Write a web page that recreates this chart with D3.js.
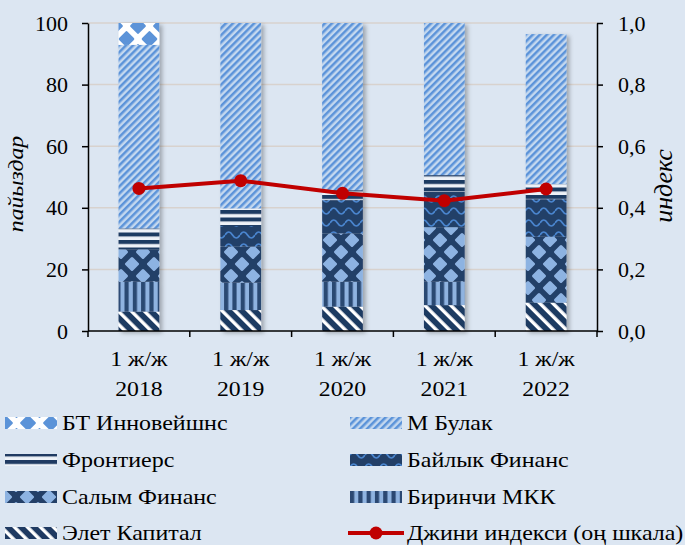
<!DOCTYPE html>
<html>
<head>
<meta charset="utf-8">
<script src="https://cdn.jsdelivr.net/npm/d3@7"></script>
<style>
  html, body { margin: 0; padding: 0; background: #dce6f2; }
  svg { display: block; }
  text { font-family: "Liberation Serif", "Times New Roman", serif; fill: #000; }
</style>
</head>
<body>
<svg id="chart" width="685" height="545"></svg>
<script>
// Periods (first half of each year)
const periodLabel = "1 ж/ж";
const categories = ["2018", "2019", "2020", "2021", "2022"];

// Market shares by company, %, stacked bottom to top
const eletKapital   = [6.3, 6.8, 7.9, 8.4, 9.2];
const birinchiMKK   = [9.7, 8.9, 8.1, 7.6, 0.0];
const salymFinans   = [10.5, 11.7, 15.7, 17.7, 21.4];
const baylykFinans  = [0.0, 6.7, 10.8, 11.5, 12.2];
const frontiers     = [6.8, 5.7, 3.2, 5.4, 4.9];
const mBulak        = [59.6, 60.2, 54.3, 49.4, 48.7];
const btInnovations = [7.1, 0.0, 0.0, 0.0, 0.0];

// Gini index (right axis)
const gini = [0.463, 0.488, 0.447, 0.423, 0.461];

const leftTicks = [0, 20, 40, 60, 80, 100];
const rightTicks = [0, 0.2, 0.4, 0.6, 0.8, 1.0];

const series = [
  { key: "elet",     name: "Элет Капитал",   values: eletKapital },
  { key: "birinchi", name: "Биринчи МКК",    values: birinchiMKK },
  { key: "salym",    name: "Салым Финанс",   values: salymFinans },
  { key: "baylyk",   name: "Байлык Финанс",  values: baylykFinans },
  { key: "front",    name: "Фронтиерс",      values: frontiers },
  { key: "mbulak",   name: "М Булак",        values: mBulak },
  { key: "bt",       name: "БТ Инновейшнс",  values: btInnovations }
];

const svg = d3.select("#chart");
const defs = svg.append("defs");

// ---- fill patterns ----
const navy = "#233f67";
function diamondPath(cx, cy, r) {
  return `M${cx},${cy - r}L${cx + r},${cy}L${cx},${cy + r}L${cx - r},${cy}Z`;
}
function latticePattern(id, w, h, r, bg, fg) {
  const p = defs.append("pattern").attr("id", id)
    .attr("patternUnits", "userSpaceOnUse").attr("width", w).attr("height", h);
  p.append("rect").attr("width", w).attr("height", h).attr("fill", bg);
  const pts = [[w / 2, h / 2], [0, 0], [w, 0], [0, h], [w, h]];
  pts.forEach(([cx, cy]) => {
    p.append("path").attr("d", diamondPath(cx, cy, r))
      .attr("fill", fg).attr("stroke", fg).attr("stroke-width", 3)
      .attr("stroke-linejoin", "round");
  });
}
latticePattern("pat-bt", 23, 26, 6.3, "#ffffff", "#5b93d8");
latticePattern("pat-salym", 22, 24, 5.5, navy, "#8db3e2");

// М Булак: wide upward diagonal
{
  const p = defs.append("pattern").attr("id", "pat-mbulak")
    .attr("patternUnits", "userSpaceOnUse").attr("width", 5).attr("height", 5)
    .attr("patternTransform", "rotate(45)");
  p.append("rect").attr("width", 5).attr("height", 5).attr("fill", "#c4d8ef");
  p.append("rect").attr("width", 2.5).attr("height", 5).attr("fill", "#5b93d9");
}
// Элет Капитал: wide downward diagonal
{
  const p = defs.append("pattern").attr("id", "pat-elet")
    .attr("patternUnits", "userSpaceOnUse").attr("width", 9.2).attr("height", 9.2)
    .attr("patternTransform", "rotate(-45)");
  p.append("rect").attr("width", 9.2).attr("height", 9.2).attr("fill", "#1f3a62");
  p.append("rect").attr("width", 3.4).attr("height", 9.2).attr("fill", "#ffffff");
}
// Фронтиерс: horizontal lines
{
  const p = defs.append("pattern").attr("id", "pat-front")
    .attr("patternUnits", "userSpaceOnUse").attr("width", 8).attr("height", 7.5);
  p.append("rect").attr("width", 8).attr("height", 7.5).attr("fill", "#eef2f8");
  p.append("rect").attr("width", 8).attr("height", 4).attr("fill", "#1f3a62");
}
// Биринчи МКК: vertical stripes
{
  const p = defs.append("pattern").attr("id", "pat-birinchi")
    .attr("patternUnits", "userSpaceOnUse").attr("width", 8.3).attr("height", 8);
  p.append("rect").attr("width", 8.3).attr("height", 8).attr("fill", "#8fb3e0");
  p.append("rect").attr("width", 4.2).attr("height", 8).attr("fill", "#2b4872");
}
// Байлык Финанс: waves
{
  const p = defs.append("pattern").attr("id", "pat-baylyk")
    .attr("patternUnits", "userSpaceOnUse").attr("width", 15).attr("height", 12);
  p.append("rect").attr("width", 15).attr("height", 12).attr("fill", navy);
  p.append("path").attr("d", "M0,7 Q3.75,1 7.5,7 T15,7")
    .attr("fill", "none").attr("stroke", "#4a86d0").attr("stroke-width", 1.7);
}

// soft drop shadow under bars
const f = defs.append("filter").attr("id", "shadow")
  .attr("x", "-20%").attr("y", "-5%").attr("width", "150%").attr("height", "115%");
f.append("feDropShadow").attr("dx", 3).attr("dy", 2).attr("stdDeviation", 2)
  .attr("flood-color", "#000").attr("flood-opacity", 0.28);

// ---- scales ----
const plot = { left: 88, right: 597, top: 23, bottom: 331 };
const x = d3.scaleBand().domain(categories).range([plot.left, plot.right])
  .paddingInner(0.6).paddingOuter(0.3);
const y = d3.scaleLinear().domain([0, 100]).range([plot.bottom, plot.top]);
const y2 = d3.scaleLinear().domain([0, 1]).range([plot.bottom, plot.top]);

// ---- gridlines ----
svg.append("g").selectAll("line").data(leftTicks.filter(d => d > 0)).join("line")
  .attr("x1", plot.left).attr("x2", plot.right)
  .attr("y1", d => y(d)).attr("y2", d => y(d))
  .attr("stroke", "#d8d2ce").attr("stroke-width", 1.5);

// ---- stacked bars ----
const table = categories.map((c, i) => {
  const row = { cat: c };
  series.forEach(s => row[s.key] = s.values[i]);
  return row;
});
const stack = d3.stack().keys(series.map(s => s.key))(table);

const barGroups = svg.append("g").selectAll("g.bar").data(categories).join("g")
  .attr("class", "bar").attr("filter", "url(#shadow)");
barGroups.each(function (cat, i) {
  const g = d3.select(this);
  stack.forEach(layer => {
    const seg = layer[i];
    if (seg[1] - seg[0] <= 0) return;
    g.append("rect")
      .attr("x", x(cat)).attr("width", x.bandwidth())
      .attr("y", y(seg[1])).attr("height", y(seg[0]) - y(seg[1]))
      .attr("fill", `url(#pat-${layer.key})`);
  });
});

// ---- axes ----
const axisStyle = g => {
  g.selectAll("path, line").attr("stroke", "#000").attr("stroke-width", 1.5);
  g.selectAll("text").style("font-family", "'Liberation Serif', serif")
    .style("font-size", "22px").attr("fill", "#000");
};
svg.append("g").attr("transform", `translate(${plot.left},0)`)
  .call(d3.axisLeft(y).tickValues(leftTicks).tickSize(6).tickSizeOuter(0).tickPadding(14))
  .call(axisStyle);
svg.append("g").attr("transform", `translate(${plot.right},0)`)
  .call(d3.axisRight(y2).tickValues(rightTicks).tickSize(6).tickSizeOuter(0).tickPadding(15)
    .tickFormat(d => d3.format(".1f")(d).replace(".", ",")))
  .call(axisStyle);

// x axis line with ticks between categories
const step = x.step();
const bounds = d3.range(categories.length + 1).map(i => plot.left + i * step);
const xg = svg.append("g");
xg.append("line").attr("x1", plot.left).attr("x2", plot.right)
  .attr("y1", plot.bottom).attr("y2", plot.bottom)
  .attr("stroke", "#000").attr("stroke-width", 1.5);
xg.selectAll("line.tk").data(bounds).join("line").attr("class", "tk")
  .attr("x1", d => d).attr("x2", d => d)
  .attr("y1", plot.bottom).attr("y2", plot.bottom + 6)
  .attr("stroke", "#000").attr("stroke-width", 1.5);
const lab = xg.selectAll("g.lab").data(categories).join("g").attr("class", "lab")
  .attr("transform", d => `translate(${x(d) + x.bandwidth() / 2},0) scale(1.08,1)`);
lab.append("text").attr("y", 366).attr("text-anchor", "middle")
  .style("font-size", "22px").text(periodLabel);
lab.append("text").attr("y", 396).attr("text-anchor", "middle")
  .style("font-size", "22px").text(d => d);

// axis titles
svg.append("text").attr("transform", "translate(23,184) rotate(-90) scale(1.08,1)")
  .attr("text-anchor", "middle").style("font-size", "22px").style("font-style", "italic")
  .text("пайыздар");
svg.append("text").attr("transform", "translate(672,186) rotate(-90)")
  .attr("text-anchor", "middle").style("font-size", "26px").style("font-style", "italic")
  .text("индекс");

// ---- Gini line ----
const cx = c => x(c) + x.bandwidth() / 2;
svg.append("path").datum(gini)
  .attr("d", d3.line().x((d, i) => cx(categories[i])).y(d => y2(d)))
  .attr("fill", "none").attr("stroke", "#c00000").attr("stroke-width", 4);
svg.append("g").selectAll("circle").data(gini).join("circle")
  .attr("cx", (d, i) => cx(categories[i])).attr("cy", d => y2(d))
  .attr("r", 6.5).attr("fill", "#c00000");

// ---- legend ----
const legendItems = [
  { col: 0, row: 0, key: "bt" },
  { col: 0, row: 1, key: "front" },
  { col: 0, row: 2, key: "salym" },
  { col: 0, row: 3, key: "elet" },
  { col: 1, row: 0, key: "mbulak" },
  { col: 1, row: 1, key: "baylyk" },
  { col: 1, row: 2, key: "birinchi" },
  { col: 1, row: 3, key: "gini" }
];
const rowY = [423, 460, 497, 533];
const colX = [5, 350];
const lg = svg.append("g").selectAll("g").data(legendItems).join("g")
  .attr("transform", d => `translate(${colX[d.col]},${rowY[d.row]})`);
lg.each(function (d) {
  const g = d3.select(this);
  const label = d.key === "gini" ? "Джини индекси (оң шкала)"
    : series.find(s => s.key === d.key).name;
  if (d.key === "gini") {
    g.append("line").attr("x1", -2).attr("x2", 54).attr("y1", 0).attr("y2", 0)
      .attr("stroke", "#c00000").attr("stroke-width", 4);
    g.append("circle").attr("cx", 26).attr("cy", 0).attr("r", 6.5).attr("fill", "#c00000");
  } else {
    g.append("rect").attr("x", 0).attr("y", -6).attr("width", 52).attr("height", 12)
      .attr("fill", `url(#pat-${d.key})`);
  }
  g.append("text").attr("transform", "translate(57,7) scale(1.09,1)")
    .style("font-size", "22px").text(label);
});
</script>
</body>
</html>
